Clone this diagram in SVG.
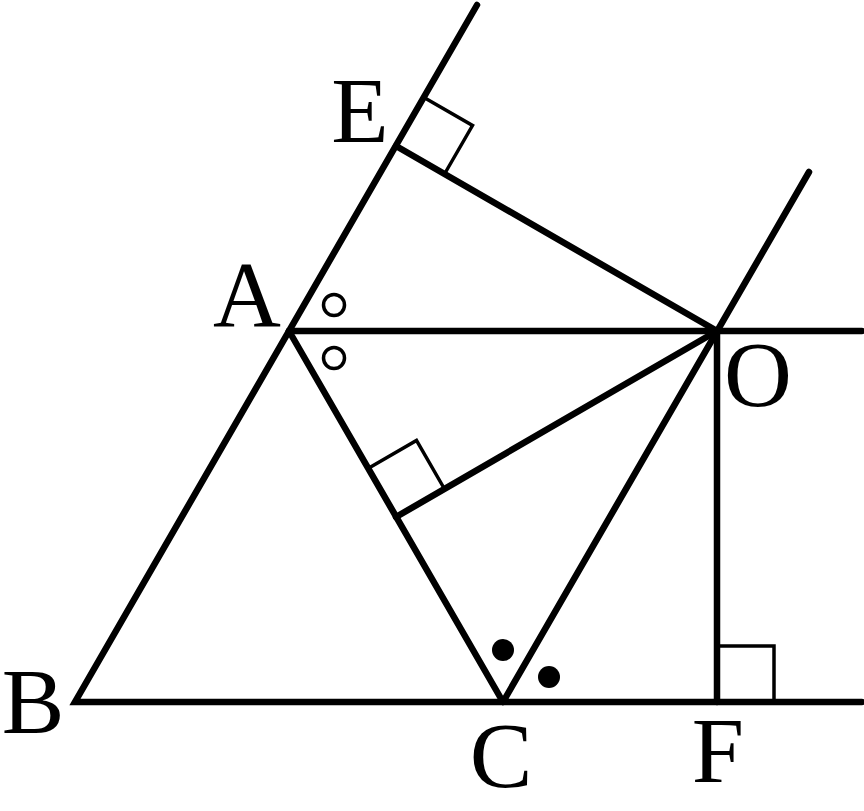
<svg xmlns="http://www.w3.org/2000/svg" width="864" height="811" viewBox="0 0 864 811">
<style>
.ln{fill:none;stroke:#000;stroke-width:6.5;stroke-linecap:round;stroke-linejoin:miter}
.rj{stroke-linejoin:round}
.mk{fill:none;stroke:#000;stroke-width:3.5}
.ring{fill:none;stroke:#000;stroke-width:3.5}
.dot{fill:#000}
.lb{font-family:"Liberation Serif","DejaVu Serif",serif;font-size:94px;fill:#000;text-anchor:middle}
</style>
<rect width="864" height="811" fill="#fff"/>
<g id="connectors">
<polyline class="ln" points="477,5 75,702 862,702"/>
<line class="ln" x1="862" y1="331" x2="289" y2="331"/>
<polyline class="ln rj" points="289,331 503,702 809,172"/>
<line class="ln" x1="396" y1="146" x2="717" y2="331"/>
<line class="ln" x1="717" y1="331" x2="717" y2="702"/>
<line class="ln" x1="396" y1="517" x2="717" y2="331"/>
</g>
<g id="markers">
<polyline class="mk" points="424,97.5 472.5,125.5 444.5,174"/>
<polyline class="mk" points="368,468.5 416.5,440.5 444.5,489"/>
<polyline class="mk" points="717,646 774,646 774,702"/>
<circle class="ring" cx="334" cy="305" r="10.5"/>
<circle class="ring" cx="334" cy="358" r="10.5"/>
<circle class="dot" cx="503" cy="650" r="11"/>
<circle class="dot" cx="549" cy="677" r="11"/>
</g>
<g id="node-E"><text class="lb" x="360" y="142">E</text></g>
<g id="node-A"><text class="lb" x="247" y="326">A</text></g>
<g id="node-O"><text class="lb" x="758" y="406">O</text></g>
<g id="node-B"><text class="lb" x="33" y="733">B</text></g>
<g id="node-C"><text class="lb" x="501" y="787">C</text></g>
<g id="node-F"><text class="lb" x="718" y="782">F</text></g>
</svg>
